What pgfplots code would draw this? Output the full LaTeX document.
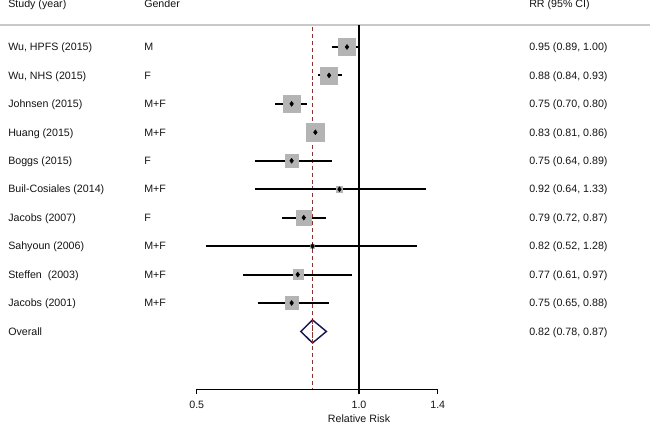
\documentclass[border=0pt]{standalone}
\usepackage{pgfplots}
\pgfplotsset{compat=1.18}
\usepackage{pgfplotstable}
\usepackage{fontspec}
\setmainfont{Liberation Sans}
\definecolor{boxgray}{RGB}{180,180,180}
\definecolor{sepgray}{RGB}{200,200,200}
\definecolor{dashred}{RGB}{140,50,50}
\definecolor{navy}{RGB}{25,25,85}
\definecolor{txt}{RGB}{20,20,20}

% y = - pixel row of each study
\pgfplotstableread{
y rr ms
-47.0 0.95 6.375
-75.4 0.88 6.375
-103.9 0.75 6.19
-132.3 0.83 6.75
-160.8 0.75 4.69
-189.2 0.92 2.25
-217.7 0.79 5.6
-246.1 0.82 1.5
-274.6 0.77 3.75
-303.0 0.75 4.69
}\studies

\pgfplotstableread{
x y
0.89 -47.0
1.00 -47.0
nan nan
0.84 -75.4
0.93 -75.4
nan nan
0.70 -103.9
0.80 -103.9
nan nan
0.81 -132.3
0.86 -132.3
nan nan
0.64 -160.8
0.89 -160.8
nan nan
0.64 -189.2
1.33 -189.2
nan nan
0.72 -217.7
0.87 -217.7
nan nan
0.52 -246.1
1.28 -246.1
nan nan
0.61 -274.6
0.97 -274.6
nan nan
0.65 -303.0
0.88 -303.0
}\cis

\begin{document}
\begin{tikzpicture}[font=\fontsize{8}{9.6}\selectfont, every node/.style={text=txt}]
\begin{axis}[
  xmode=log,
  scale only axis,
  width=180.75pt, height=273.2pt,
  xmin=0.5, xmax=1.4,
  ymin=-389.3, ymax=-25,
  clip=false,
  axis x line=bottom,
  axis y line=none,
  x axis line style={-, line width=1.1pt, black},
  xtick={0.5,1,1.4},
  xticklabels={0.5,1.0,1.4},
  tick align=outside,
  major tick length=3.75pt,
  xtick style={line width=1.1pt, black},
  xticklabel style={anchor=north, inner sep=0pt, yshift=-5pt, font=\fontsize{8}{9.6}\selectfont, text=txt},
  /pgf/number format/assume math mode=true,
  unbounded coords=jump,
]
% header separator
\draw[sepgray, line width=1.3pt] ([xshift=-269.25pt]axis cs:1,-25) -- ([xshift=218.25pt]axis cs:1,-25);
% reference lines
\addplot[black, line width=1.1pt] coordinates {(1,-25) (1,-389.3)};
\addplot[dashred, line width=0.9pt, dash pattern=on 3pt off 2.2pt] coordinates {(0.82,-27) (0.82,-389.3)};
% explicit downward ticks at the axis ends
\addplot[black, line width=1.1pt] coordinates {(0.5,-389.3) (0.5,-394.3)};
\addplot[black, line width=1.1pt] coordinates {(1,-389.3) (1,-394.3)};
\addplot[black, line width=1.1pt] coordinates {(1.4,-389.3) (1.4,-394.3)};
% weight boxes
\addplot[scatter, only marks, mark=square*,
  scatter/use mapped color={draw=boxgray, fill=boxgray},
  visualization depends on={\thisrow{ms} \as \msize},
  scatter/@pre marker code/.append style={/tikz/mark size=\msize pt}]
  table[x=rr, y=y] {\studies};
% confidence intervals
\addplot[black, line width=1.5pt, no marks] table[x=x, y=y] {\cis};
% point estimates
\addplot[only marks, mark=diamond*, mark size=1.8pt, black] table[x=rr, y=y] {\studies};
% overall diamond
\addplot[navy, line width=1.1pt] coordinates {(0.78,-331.5) (0.82,-320) (0.87,-331.5) (0.82,-343) (0.78,-331.5)} -- cycle;
\addplot[dashred, line width=0.9pt, dash pattern=on 3pt off 2.2pt] coordinates {(0.82,-320) (0.82,-343)};

% headers
\node[anchor=base west, inner sep=0pt] at ([xshift=-263.25pt]axis cs:1,-7.5) {Study (year)};
\node[anchor=base west, inner sep=0pt] at ([xshift=-161.25pt]axis cs:1,-7.5) {Gender};
\node[anchor=base west, inner sep=0pt] at ([xshift=127.5pt]axis cs:1,-7.5) {RR (95\% CI)};
% study column
\node[anchor=base west, inner sep=0pt] at ([xshift=-263.25pt]axis cs:1,-50.8) {Wu, HPFS (2015)};
\node[anchor=base west, inner sep=0pt] at ([xshift=-263.25pt]axis cs:1,-79.2) {Wu, NHS (2015)};
\node[anchor=base west, inner sep=0pt] at ([xshift=-263.25pt]axis cs:1,-107.7) {Johnsen (2015)};
\node[anchor=base west, inner sep=0pt] at ([xshift=-263.25pt]axis cs:1,-136.1) {Huang (2015)};
\node[anchor=base west, inner sep=0pt] at ([xshift=-263.25pt]axis cs:1,-164.6) {Boggs (2015)};
\node[anchor=base west, inner sep=0pt] at ([xshift=-263.25pt]axis cs:1,-193.0) {Buil-Cosiales (2014)};
\node[anchor=base west, inner sep=0pt] at ([xshift=-263.25pt]axis cs:1,-221.5) {Jacobs (2007)};
\node[anchor=base west, inner sep=0pt] at ([xshift=-263.25pt]axis cs:1,-249.9) {Sahyoun (2006)};
\node[anchor=base west, inner sep=0pt] at ([xshift=-263.25pt]axis cs:1,-278.4) {Steffen~ (2003)};
\node[anchor=base west, inner sep=0pt] at ([xshift=-263.25pt]axis cs:1,-306.8) {Jacobs (2001)};
\node[anchor=base west, inner sep=0pt] at ([xshift=-263.25pt]axis cs:1,-335.3) {Overall};
% gender column
\node[anchor=base west, inner sep=0pt] at ([xshift=-161.25pt]axis cs:1,-50.8) {M};
\node[anchor=base west, inner sep=0pt] at ([xshift=-161.25pt]axis cs:1,-79.2) {F};
\node[anchor=base west, inner sep=0pt] at ([xshift=-161.25pt]axis cs:1,-107.7) {M+F};
\node[anchor=base west, inner sep=0pt] at ([xshift=-161.25pt]axis cs:1,-136.1) {M+F};
\node[anchor=base west, inner sep=0pt] at ([xshift=-161.25pt]axis cs:1,-164.6) {F};
\node[anchor=base west, inner sep=0pt] at ([xshift=-161.25pt]axis cs:1,-193.0) {M+F};
\node[anchor=base west, inner sep=0pt] at ([xshift=-161.25pt]axis cs:1,-221.5) {F};
\node[anchor=base west, inner sep=0pt] at ([xshift=-161.25pt]axis cs:1,-249.9) {M+F};
\node[anchor=base west, inner sep=0pt] at ([xshift=-161.25pt]axis cs:1,-278.4) {M+F};
\node[anchor=base west, inner sep=0pt] at ([xshift=-161.25pt]axis cs:1,-306.8) {M+F};
% RR column
\node[anchor=base west, inner sep=0pt] at ([xshift=127.5pt]axis cs:1,-50.8) {0.95 (0.89, 1.00)};
\node[anchor=base west, inner sep=0pt] at ([xshift=127.5pt]axis cs:1,-79.2) {0.88 (0.84, 0.93)};
\node[anchor=base west, inner sep=0pt] at ([xshift=127.5pt]axis cs:1,-107.7) {0.75 (0.70, 0.80)};
\node[anchor=base west, inner sep=0pt] at ([xshift=127.5pt]axis cs:1,-136.1) {0.83 (0.81, 0.86)};
\node[anchor=base west, inner sep=0pt] at ([xshift=127.5pt]axis cs:1,-164.6) {0.75 (0.64, 0.89)};
\node[anchor=base west, inner sep=0pt] at ([xshift=127.5pt]axis cs:1,-193.0) {0.92 (0.64, 1.33)};
\node[anchor=base west, inner sep=0pt] at ([xshift=127.5pt]axis cs:1,-221.5) {0.79 (0.72, 0.87)};
\node[anchor=base west, inner sep=0pt] at ([xshift=127.5pt]axis cs:1,-249.9) {0.82 (0.52, 1.28)};
\node[anchor=base west, inner sep=0pt] at ([xshift=127.5pt]axis cs:1,-278.4) {0.77 (0.61, 0.97)};
\node[anchor=base west, inner sep=0pt] at ([xshift=127.5pt]axis cs:1,-306.8) {0.75 (0.65, 0.88)};
\node[anchor=base west, inner sep=0pt] at ([xshift=127.5pt]axis cs:1,-335.3) {0.82 (0.78, 0.87)};
% x label
\node[anchor=base, inner sep=0pt] at (axis cs:1,-422.5) {Relative Risk};
% page frame
\coordinate (bl) at ([xshift=-269.25pt]axis cs:1,-423);
\coordinate (tr) at ([xshift=218.25pt]axis cs:1,0);
\end{axis}
\pgfresetboundingbox
\path[use as bounding box] (bl) rectangle (tr);
\end{tikzpicture}
\end{document}
